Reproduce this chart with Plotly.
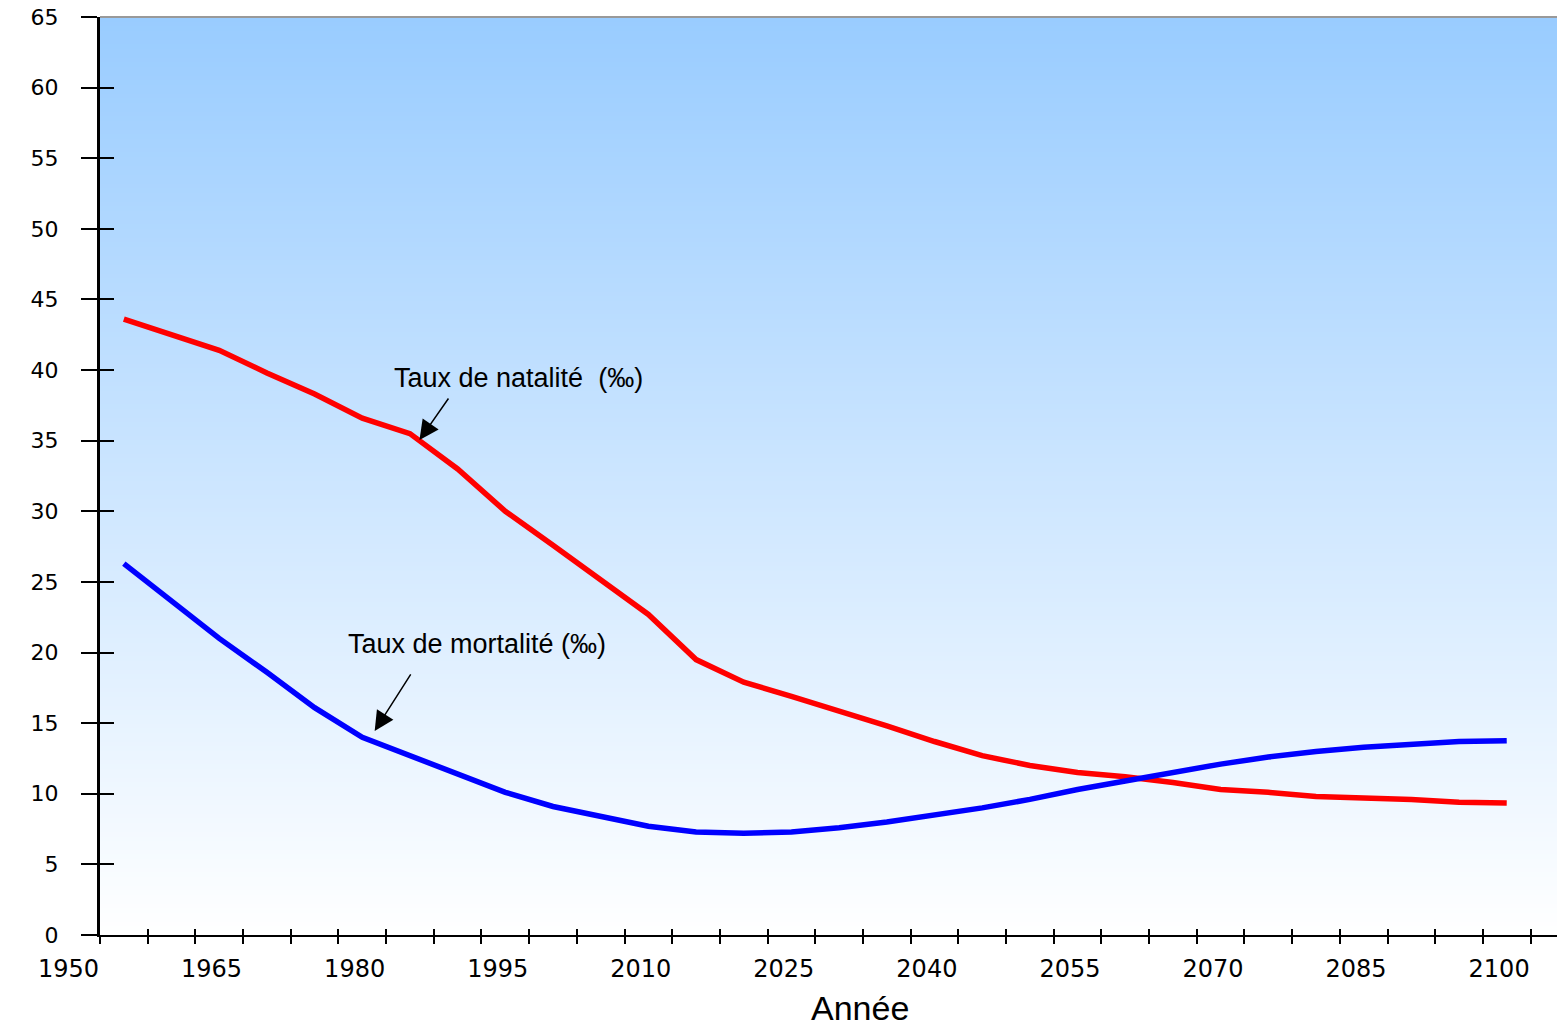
import plotly.graph_objects as go

years = [1952.5 + 5 * i for i in range(30)]
natalite = [43.6, 42.5, 41.4, 39.8, 38.3, 36.6, 35.5, 33.0, 30.0, 27.6,
            25.1, 22.7, 19.5, 17.9, 16.9, 15.9, 14.8, 13.7, 12.7, 12.0,
            11.5, 11.2, 10.8, 10.3, 10.1, 9.8, 9.7, 9.6, 9.4, 9.35]
mortalite = [26.3, 23.6, 21.0, 18.6, 16.1, 14.0, 12.7, 11.5, 10.1, 9.1,
             8.4, 7.7, 7.3, 7.2, 7.3, 7.6, 8.0, 8.5, 9.0, 9.6,
             10.3, 10.9, 11.5, 12.1, 12.6, 13.0, 13.3, 13.5, 13.7, 13.75]
x_tick_labels = ["1950", "1965", "1980", "1995", "2010", "2025", "2040", "2055", "2070", "2085", "2100"]
x_label_years = [1950, 1965, 1980, 1995, 2010, 2025, 2040, 2055, 2070, 2085, 2100]
y_ticks = list(range(0, 70, 5))

W, H = 1565, 1029
ML, MR, MT, MB = 20, 10, 9, 102
XMIN, XMAX = 1950, 2103.4
YMIN, YMAX = 0, 65
label_shift = 3.3

plot_w = W - ML - MR
main_w = 1463
d0 = 1 - main_w / plot_w
px_per_year = main_w / (XMAX - XMIN)
lab_left = XMIN - (plot_w - main_w) / px_per_year
lab_range = [lab_left + label_shift, XMAX + label_shift]

fig = go.Figure()

# gradient background
fig.add_trace(go.Heatmap(
    x=[XMIN, XMAX], y=[YMIN, YMAX], z=[[0, 0], [1, 1]],
    colorscale=[[0, "#FFFFFF"], [1, "#99CCFF"]], zsmooth="best",
    showscale=False, hoverinfo="skip"))

fig.add_trace(go.Scatter(x=years, y=natalite, mode="lines",
                         line=dict(color="#FF0000", width=5.5), name="Taux de natalité"))
fig.add_trace(go.Scatter(x=years, y=mortalite, mode="lines",
                         line=dict(color="#0000FF", width=5.5), name="Taux de mortalité"))
# empty traces to activate helper axes
fig.add_trace(go.Scatter(x=[], y=[], xaxis="x2", yaxis="y", showlegend=False))
fig.add_trace(go.Scatter(x=[], y=[], xaxis="x3", yaxis="y", showlegend=False))
fig.add_trace(go.Scatter(x=[], y=[], xaxis="x", yaxis="y2", showlegend=False))
fig.add_trace(go.Scatter(x=[], y=[], xaxis="x4", yaxis="y", showlegend=False))

tickfont = dict(family="DejaVu Sans", size=22, color="black")
xtickfont = dict(family="DejaVu Sans", size=24, color="black")

fig.update_layout(
    width=W, height=H,
    margin=dict(l=ML, r=MR, t=MT, b=MB),
    paper_bgcolor="white", plot_bgcolor="rgba(0,0,0,0)",
    showlegend=False,
    xaxis=dict(domain=[d0, 1], range=[XMIN, XMAX], showgrid=False, zeroline=False,
               showticklabels=False, ticks="", automargin=False,
               showline=True, linecolor="black", linewidth=2),
    xaxis2=dict(range=[XMIN, XMAX], overlaying="x", anchor="y", showgrid=False, zeroline=False,
                tick0=1950, dtick=5, ticks="outside", ticklen=8, tickwidth=2, tickcolor="black",
                showticklabels=False, showline=False, automargin=False),
    xaxis3=dict(range=[XMIN, XMAX], overlaying="x", anchor="y", showgrid=False, zeroline=False,
                tick0=1950, dtick=5, ticks="inside", ticklen=6, tickwidth=2, tickcolor="black",
                showticklabels=False, showline=False, automargin=False),
    xaxis4=dict(domain=[0, 1], range=lab_range, anchor="y", showgrid=False, zeroline=False,
                tickvals=x_label_years, ticktext=x_tick_labels, ticks="",
                tickfont=xtickfont, ticklabelstandoff=17, ticklabeloverflow="allow",
                showline=False, automargin=False),
    yaxis=dict(range=[YMIN, YMAX], anchor="x", showgrid=False, zeroline=False,
               tickvals=y_ticks, ticks="outside", ticklen=16, tickwidth=2, tickcolor="black",
               tickfont=tickfont, ticklabelstandoff=18, automargin=False,
               ticklabeloverflow="allow",
               showline=True, linecolor="black", linewidth=3),
    yaxis2=dict(range=[YMIN, YMAX], overlaying="y", anchor="x", showgrid=False, zeroline=False,
                tickvals=y_ticks, ticks="inside", ticklen=14, tickwidth=2, tickcolor="black",
                showticklabels=False, showline=False, automargin=False),
    shapes=[dict(type="line", xref="x domain", yref="y domain", x0=0, x1=1, y0=1, y1=1,
                 line=dict(color="#999999", width=2))],
    annotations=[
        dict(x=1993.9, y=39.45, text="Taux de natalité  (‰)", showarrow=False,
             font=dict(family="Liberation Sans", size=27, color="black")),
        dict(x=1983.5, y=35.05, text="", showarrow=True, ax=30, ay=-43,
             arrowhead=2, arrowsize=2.6, arrowwidth=1.5, arrowcolor="black"),
        dict(x=1989.5, y=20.6, text="Taux de mortalité (‰)", showarrow=False,
             font=dict(family="Liberation Sans", size=27, color="black")),
        dict(x=1978.8, y=14.45, text="", showarrow=True, ax=37, ay=-58,
             arrowhead=2, arrowsize=2.6, arrowwidth=1.5, arrowcolor="black"),
        dict(x=2029.7, y=0, xref="x", yref="y domain", yanchor="middle", yshift=-73,
             text="Année", showarrow=False,
             font=dict(family="Liberation Sans", size=34, color="black")),
    ],
)

fig.write_html("out.html")
